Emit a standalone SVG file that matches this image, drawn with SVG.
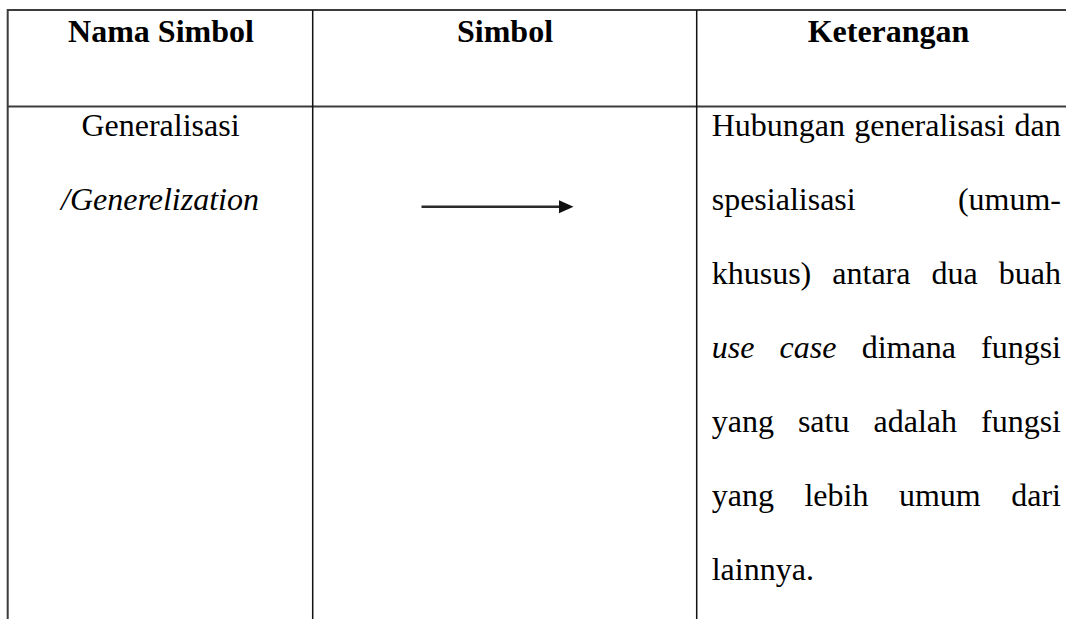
<svg xmlns="http://www.w3.org/2000/svg" width="1066" height="619" viewBox="0 0 1066 619">
  <style>
    .rule { stroke: #3c3c3c; stroke-width: 2; fill: none; }
    .col { stroke: #111; stroke-width: 1.5; fill: none; }
    text { font-family: "Liberation Serif", "Times New Roman", serif; font-size: 32px; fill: #000; }
    .head { font-weight: bold; text-anchor: middle; }
    .mid { text-anchor: middle; }
    .end { text-anchor: end; }
    .it { font-style: italic; }
  </style>

  <!-- table grid -->
  <g id="grid">
    <line class="rule" x1="7" y1="10" x2="1066" y2="10"/>
    <line class="rule" x1="7" y1="106.5" x2="1066" y2="106.5"/>
    <line class="rule" x1="7.7" y1="9" x2="7.7" y2="619"/>
    <line class="col" x1="312.7" y1="10" x2="312.7" y2="619"/>
    <line class="col" x1="696.7" y1="10" x2="696.7" y2="619"/>
  </g>

  <!-- header row -->
  <g id="header">
    <text class="head" x="161" y="42">Nama Simbol</text>
    <text class="head" x="505" y="42">Simbol</text>
    <text class="head" x="888.5" y="42">Keterangan</text>
  </g>

  <!-- symbol name -->
  <g id="nama">
    <text class="mid" x="160.5" y="136">Generalisasi</text>
    <text class="mid it" x="160" y="209.5">/Generelization</text>
  </g>

  <!-- generalization arrow -->
  <g id="connectors">
    <line x1="421.5" y1="206.7" x2="562" y2="206.7" stroke="#2a2a2a" stroke-width="2.6"/>
    <polygon points="559,200.2 573.5,206.7 559,213.2" fill="#111"/>
  </g>

  <!-- description, justified word by word -->
  <g id="keterangan">
    <text x="711.7" y="135.5" word-spacing="1.2">Hubungan generalisasi dan</text>

    <text x="711.7" y="209.5">spesialisasi</text>
    <text class="end" x="1061" y="209.5">(umum-</text>

    <text x="711.7" y="283.5">khusus)</text>
    <text x="832.3" y="283.5">antara</text>
    <text x="931.5" y="283.5">dua</text>
    <text class="end" x="1061" y="283.5">buah</text>

    <text class="it" x="711.7" y="357.5">use</text>
    <text class="it" x="779.6" y="357.5">case</text>
    <text x="861.7" y="357.5">dimana</text>
    <text class="end" x="1061" y="357.5">fungsi</text>

    <text x="711.7" y="431.5">yang</text>
    <text x="797.9" y="431.5">satu</text>
    <text x="873.5" y="431.5">adalah</text>
    <text class="end" x="1061" y="431.5">fungsi</text>

    <text x="711.7" y="505.5">yang</text>
    <text x="804.4" y="505.5">lebih</text>
    <text x="898.9" y="505.5">umum</text>
    <text class="end" x="1061" y="505.5">dari</text>

    <text x="711.7" y="579.5">lainnya.</text>
  </g>
</svg>
